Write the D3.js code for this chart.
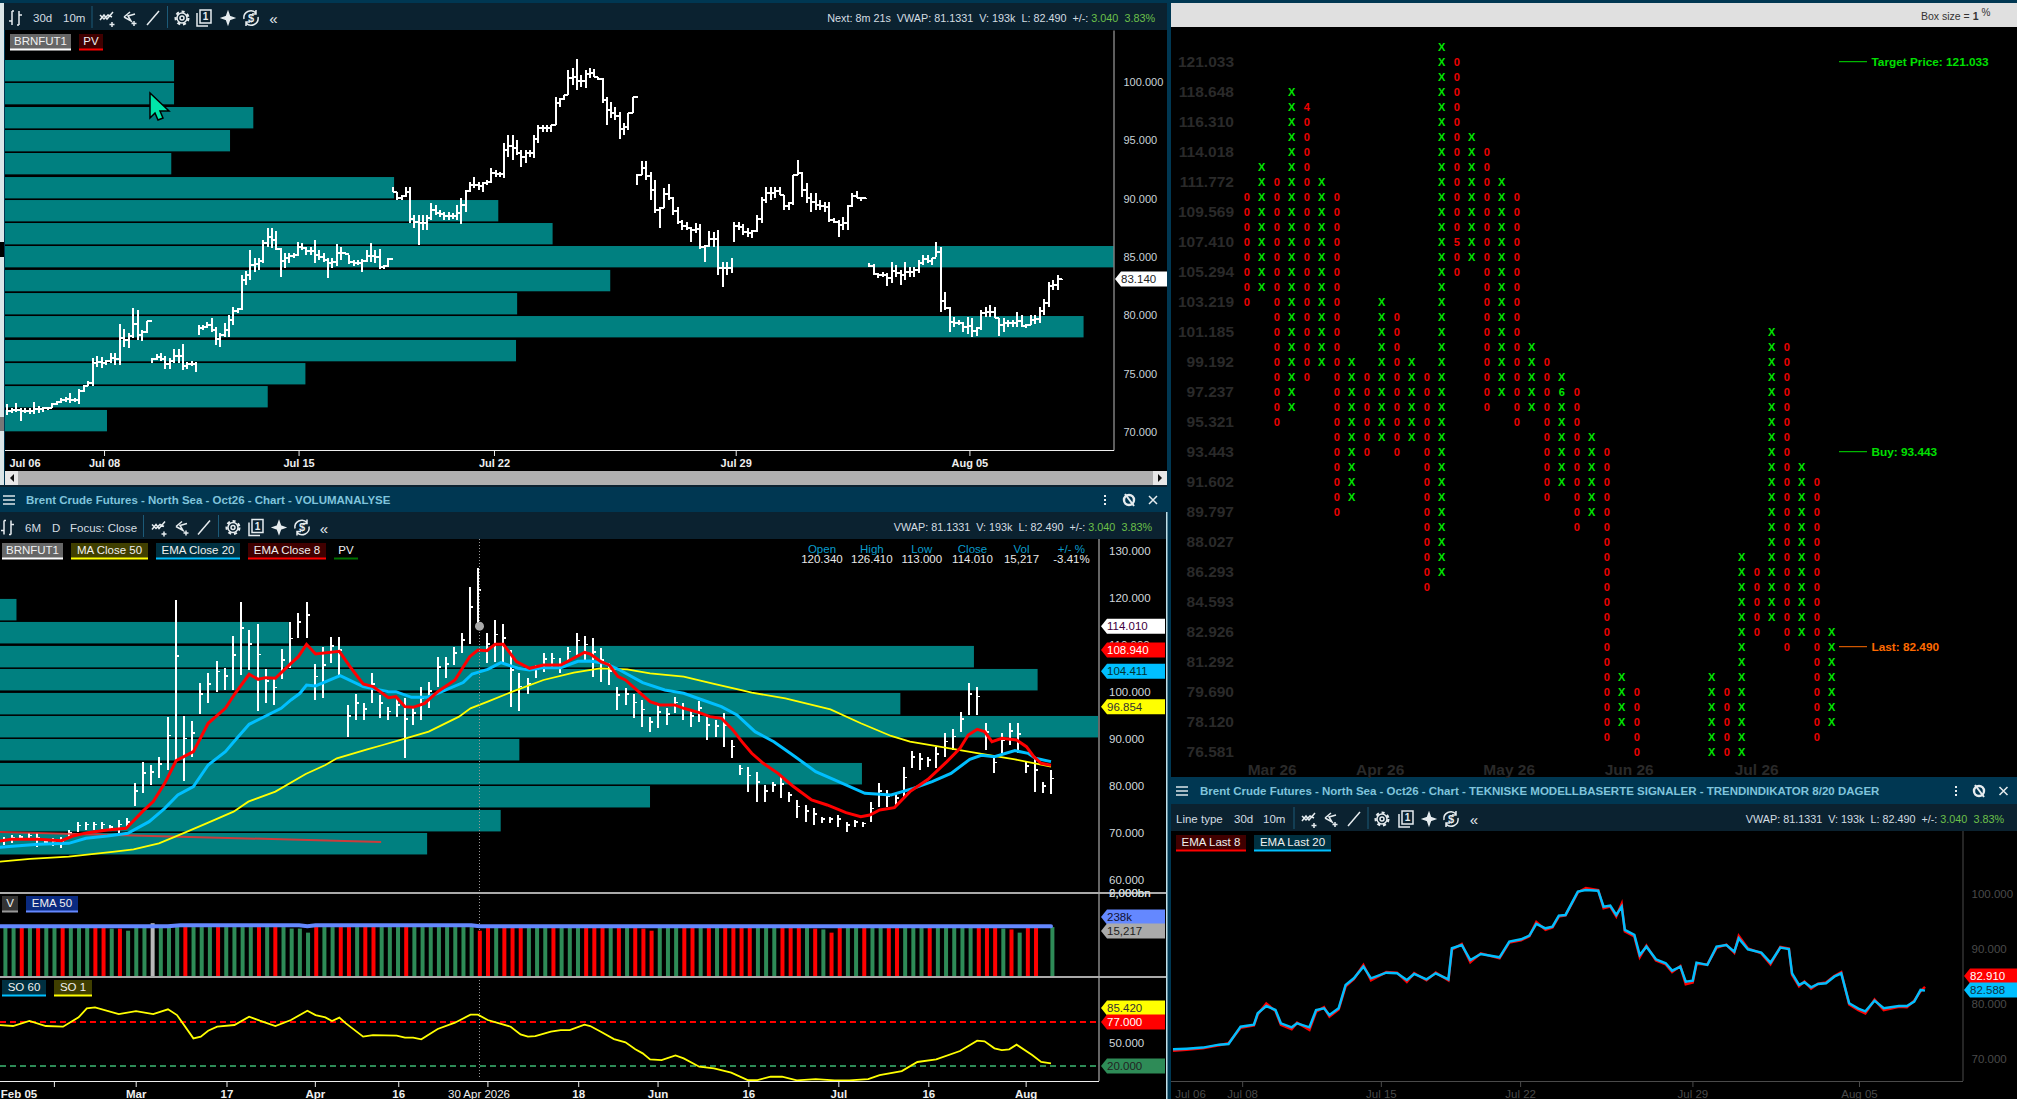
<!DOCTYPE html>
<html>
<head>
<meta charset="utf-8">
<title>Brent Crude Futures</title>
<script src="https://cdnjs.cloudflare.com/ajax/libs/d3/7.8.5/d3.min.js"></script>
<style>
html, body { margin: 0; padding: 0; background: #003752; overflow: hidden; }
text { font-family: "Liberation Sans", Arial, sans-serif; }
</style>
</head>
<body>
<div id="chart"></div>
<script>
// DATA

// top left: 10 minute bars, one list per spliced block, [high, low]
var blockA = [[72.41,71.43],[72.03,71.61],[72.46,71.75],[72.03,70.98],[72.09,71.61],[72.03,71.52],[72.6,71.52],[72.23,71.66],[72.18,71.75],[72.18,71.89],[72.52,72.03],[72.66,72.32],[72.89,72.46],[73.03,72.6],[73.32,72.46],[72.89,72.6],[73.66,72.38],[74.03,73.4],[74.4,73.95],[76.32,73.95],[76.55,75.55],[76.46,75.46],[76.18,75.75],[76.75,75.95],[76.75,75.75],[79.23,75.75],[78.83,77.32],[78.46,77.18],[80.6,78.03],[80.46,77.89],[78.75,77.83],[79.55,78.46],[79.6,79.46]];
var blockB = [[76.38,75.89],[76.69,76.18],[76.8,76.09],[76.52,75.41],[76.32,75.41],[77.09,75.89],[77.09,75.89],[77.55,75.32],[76.03,75.38],[76.12,75.66],[76.03,75.18]];
var blockC = [[79.18,78.32],[79.18,78.75],[79.46,78.89],[79.75,78.6],[78.98,77.46],[78.46,77.26],[79.32,78.18],[80.03,78.18],[80.69,79.18],[80.6,80.18],[83.46,80.46],[83.83,82.6],[85.6,83.03],[84.89,83.75],[84.89,83.89],[86.46,84.46],[87.5,85.89],[87.5,85.75],[87.2,85.6],[85.75,83.32],[85.32,84.09],[85.32,84.46],[85.32,84.89],[86.32,85.09],[86.18,85.6],[85.89,85.18],[85.89,85.18],[86.46,84.46],[85.6,84.75],[85.32,84.6],[84.89,83.23],[84.89,84.03],[86.09,84.23],[85.89,84.75],[85.46,85.26],[85.18,84.38],[84.75,84.23],[84.75,84.32],[84.8,83.75],[85.6,84.6],[86.18,84.6],[85.6,84.46],[85.66,83.95],[84.32,83.95],[84.89,84.12],[84.89,84.75]];
var blockD = [[90.97,90.6],[90.6,89.89],[90.32,89.89],[91.03,90.18],[91.03,87.89],[88.6,87.46],[88.6,86.03],[88.6,87.32],[88.6,87.32],[89.66,88.17],[89.46,88.6],[89.03,88.46],[88.89,88.17],[88.89,88.17],[88.74,88.23],[89.46,88.17],[90.03,87.83],[90.74,88.89],[91.46,90.6],[91.89,90.89],[91.46,90.74],[91.46,90.6],[91.6,91.17],[92.6,91.32],[92.46,91.89],[92.32,91.89],[94.74,91.74],[95.46,93.6],[95.46,93.32],[95.03,93.74],[94.17,92.74],[94.17,93.03],[94.17,93.6],[95.46,93.46],[96.32,94.74],[96.32,95.74],[96.32,95.74],[96.32,95.74],[98.74,96.32],[98.6,97.89],[98.89,98.46],[101.03,98.89],[101.17,99.74],[101.94,99.32],[100.6,99.6],[101.03,99.46],[101.17,100.32],[101.09,100.46],[100.46,100.17],[100.32,98.17],[98.74,96.32],[98.32,96.89],[97.89,96.74],[97.46,95.09],[96.46,95.46],[97.32,95.89],[98.74,97.32],[98.8,98.66]];
var blockE = [[92.12,91.17],[93.26,92.03],[93.23,91.6],[92.26,89.89],[91.6,88.8],[89.26,87.51],[90.89,89.17],[91.26,89.89],[90.17,88.6],[89.26,87.83],[88.17,87.32],[88.03,87.32],[87.6,86.32],[87.94,87.03],[87.83,85.66],[86.03,84.6],[87.26,85.89],[87.17,85.89],[87.32,83.46],[84.6,82.46],[84.6,83.46],[84.89,83.6]];
var blockF = [[88.03,86.32],[88.03,87.32],[87.83,86.89],[87.46,86.74],[87.32,86.6],[88.6,87.17],[90.17,87.89],[91.03,89.6],[91.03,89.89],[91.03,90.03],[90.97,90.32],[90.32,89.03],[89.74,89.03],[92.03,89.46],[93.32,92.03],[92.32,90.17],[91.37,89.6],[90.46,88.83],[90.46,89.03],[89.89,89.03],[89.74,88.89],[89.74,88.03],[88.32,87.89],[88.17,86.74],[88.46,87.32],[89.46,87.32],[90.46,89.32],[90.69,90.03],[90.17,89.8],[90.09,89.97]];
var blockG = [[84.46,84.17],[84.37,83.46],[83.6,83.17],[83.74,83.31],[83.6,82.54],[84.6,82.74],[84.31,83.31],[83.89,82.6],[84.54,83.03],[84.17,83.31],[84.17,83.31],[84.74,83.6],[85.17,84.31],[85.17,84.46],[84.89,84.31],[86.26,85.03],[85.89,80.31],[82.03,80.46],[80.75,78.6],[79.83,79.03],[79.6,79.17],[79.46,78.6],[79.83,78.4],[79.75,78.12],[79.03,78.23],[80.46,78.75],[80.75,79.89],[80.89,79.89],[80.69,79.75],[79.75,78.23],[79.75,78.6],[79.6,79.03],[79.6,79.03],[80.32,79.03],[80.03,79.03],[79.23,78.89],[80.03,79.17],[80.03,79.23],[80.69,79.32],[81.37,80.03],[82.89,80.75],[83.03,82.17],[83.46,82.17],[83.12,83.06]];
var tenMinBlocks = [blockA, blockB, blockC, blockD, blockE, blockF, blockG];
// where each block starts and stops on the 10 minute time line
var blockStarts = [0,32.6,43.1,86.7,141.6,163.4,193.7];
var blockEnds = [32.4,42.5,86.6,141.5,162.8,192.9,237];

// top left volume profile, upper price of each band and share of the largest
var pvTopLevels = [101.89,99.92,97.86,95.89,93.92,91.86,89.89,87.92,85.95,83.9,81.92,79.95,77.9,75.92,73.95,71.9];
var pvTopShare = [15.25,15.25,22.4,20.3,15,35.1,44.5,49.4,100,54.6,46.2,97.3,46.1,27.1,23.7,9.2];
var pvTopBandPrice = 1.83;

var topPriceTicks = [100,95,90,85,80,75,70];
var tenMinTickIdx = [21.8,65.5,109.4,163.7,216.2];
var tenMinTickLabels = ["Jul 08","Jul 15","Jul 22","Jul 29","Aug 05"];

// middle panel: daily bars [high, low]
var dailyBars = [[69.22,67.45],[69.58,67.8],[69.58,68.51],[69.93,68.51],[69.93,67.09],[68.51,67.45],[68.87,67.23],[69.22,66.74],[70.64,68.87],[72.27,70.29],
[72.41,70.64],[72.41,70.64],[72.41,70.78],[71.7,70.64],[72.77,69.93],[73.12,70.99],[80.57,75.82],[85.18,78.44],[84.47,80.21],[86.24,81.63],
[94.75,83.41],[119.58,85.53],[94.97,81.14],[93.9,86.24],[101.84,95.32],[103.97,97.59],[106.67,100.07],[105.04,100.43],[111.92,100.43],[119.08,103.62],
[113.19,104.68],[114.4,96.03],[104.89,97.59],[102.91,97.24],[109.08,102.7],[114.82,105.04],[116.74,111.42],[119.08,111.42],[105.96,98.3],[109.65,98.65],
[111.77,106.1],[111.77,103.62],[97.24,90.5],[99.58,94.04],[97.59,94.04],[103.97,97.59],[99.36,94.4],[96.88,94.04],[98.65,94.75],[98.65,86.03],
[96.88,92.98],[101.14,94.04],[102.2,96.53],[107.52,101.14],[107.52,102.91],[109.65,105.75],[112.63,108.23],[122.41,110.21],[126.31,113.19],[112.48,106.1],
[115.32,106.46],[114.47,106.1],[108.94,96.74],[103.97,96.03],[102.91,99.58],[105.75,102.91],[108.37,104.33],[108.23,105.04],[107.16,103.97],[109.65,106.81],
[112.63,107.87],[111.92,106.81],[111.42,103.26],[109.29,102.2],[106.1,101.49],[101,96.17],[100.78,97.24],[99.58,94.4],[98.3,92.62],[94.75,91.56],
[97.59,92.27],[96.53,92.98],[99.01,95.46],[97.59,94.04],[96.17,92.62],[98.16,93.69],[94.75,89.79],[94.04,90.5],[95.46,88.37],[89.79,85.89],
[84.47,82.34],[84.11,78.8],[83.05,76.67],[80.21,76.67],[80.92,78.8],[81.99,77.38],[78.8,76.67],[77.02,73.12],[75.96,72.41],[75.25,71.7],
[73.48,72.06],[73.48,72.06],[73.83,71.35],[72.41,70.29],[72.77,71.35],[72.41,71.21],[76.67,72.41],[80.71,75.6],[79.15,75.6],[78.44,75.6],
[83.97,77.73],[87.52,83.76],[86.95,83.41],[86.24,84.11],[88.37,83.76],[91.21,86.24],[92.06,87.66],[95.67,91.56],[102,95.11],[101.14,95.11],
[93.48,87.66],[86.24,82.69],[91.21,86.95],[93.33,88.72],[93.33,86.95],[85.18,82.69],[85.89,78.8],[80.92,78.44],[83.41,78.3]];

// [bar position, value]
var ema8Close = [[-0.5,68.3],[0.9,68.65],[4.2,68.65],[7,68.37],[8.4,69.36],[10.2,70.07],[12.6,70.64],[14.9,70.99],[17,74.75],[18.2,76.67],[19.6,80.57],[21,85.39],[23.1,87.31],[24.9,93.34],[27,96.53],[28.2,99.72],[29.9,103.76],[31,102.7],[31.9,103.05],[33.1,102.91],[35,106.1],[35.9,107.52],[36.9,110.14],[38,108.09],[40.9,108.65],[42.2,105.39],[43.8,101.7],[45,101.14],[46.9,98.8],[47.8,99.01],[48.9,96.88],[49.9,96.74],[51.3,97.59],[52.9,100.07],[55,102.55],[56.8,107.52],[57.8,108.94],[58.9,108.8],[59.9,110.14],[60.9,110.14],[62.5,106.46],[64.1,105.04],[65.8,105.75],[67.9,105.75],[70.8,108.44],[71.5,108.09],[72.8,106.46],[73.8,105.75],[74.9,103.26],[75.8,102.55],[77.4,100.07],[78.8,97.94],[80,97.24],[81.8,97.24],[82.9,96.53],[84.8,95.6],[86.1,94.75],[87.5,94.4],[88.9,91.92],[90,89.43],[91.2,86.95],[92.6,84.82],[94.4,82.69],[96.2,80],[98.5,77.02],[100.4,75.96],[102.7,74.33],[104.5,73.48],[105.6,73.83],[106.8,74.89],[108.6,75.39],[110.5,78.8],[112.7,81.42],[115,85.18],[116.6,88.02],[117.6,90.85],[118.7,92.06],[119.6,91.56],[120.5,89.43],[121.7,90.14],[123.5,89.79],[124.7,88.37],[125.6,86.24],[126.5,84.82],[127.7,84.4]];
var ema20Close = [[-0.5,66.95],[1.4,67.23],[4.2,67.59],[7.9,67.8],[10,68.87],[12.6,69.36],[15.1,69.93],[17.7,72.41],[19.6,75.25],[21.2,78.09],[23.1,79.86],[24.9,84.47],[27,87.31],[28.4,90.14],[29.9,93.12],[33.8,96.53],[35,98.3],[36.1,99.72],[36.9,101.49],[38,101.28],[41,103.48],[43.8,101.14],[46.9,100.07],[47.8,100.07],[49.7,98.87],[51.5,98.87],[52.9,99.72],[56,102],[57.1,103.83],[59,104.82],[60.6,106.24],[62.7,105.04],[64.1,104.68],[65.8,105.18],[67.9,105.18],[70,106.53],[71.4,106.6],[73.3,106.1],[75.1,104.68],[77.9,101.99],[80.6,100.43],[82.9,99.72],[85.2,98.3],[87.5,96.88],[89.4,95.11],[91.6,91.56],[93.9,89.43],[96.2,86.6],[99,83.05],[101.3,81.28],[105,78.44],[108.2,78.09],[110.9,79.5],[113.2,80.92],[115.5,82.69],[117.8,85.67],[119.2,86.53],[120.8,86.24],[123.3,87.52],[124.9,86.95],[125.8,85.89],[127.7,85.18]];
var ma50Close = [[-0.5,63.9],[3.2,64.47],[7.9,64.97],[13.5,66.03],[15.8,66.53],[18.9,67.8],[21.4,69.58],[24.7,72.06],[28,74.54],[29.8,76.67],[33.1,78.8],[36.8,82.56],[39.2,84.47],[40.6,85.89],[44.3,87.8],[46.2,88.72],[49,90.14],[51.8,91.56],[55.5,94.75],[56.9,96.53],[59,97.94],[62,100.07],[65.8,102.55],[69.5,104.11],[72.7,105.04],[76,104.82],[78.8,103.97],[82.9,103.26],[86.6,101.7],[89.8,100.43],[91.2,99.86],[95.3,98.65],[100.8,96.31],[104.5,93.34],[108.2,90.64],[110.5,89.43],[114.1,88.37],[119.6,86.74],[123.3,85.67],[127.7,84.11]];
var pvTrendLine = [[-0.5,70.2],[46,68.1]];

var pvMidLevels = [119.8,114.9,109.8,104.9,99.8,94.9,90,84.9,80,74.9,70];
var pvMidShare = [1.5,26.3,88.7,94.5,82,100,47.3,78.5,59.2,45.6,38.9];
var pvMidBandPrice = 4.57;
var midPriceTicks = [130,120,110,100,90,80,70,60];

var ohlcHead = ["Open","High","Low","Close","Vol","+/- %"];
var ohlcVals = ["120.340","126.410","113.000","114.010","15,217","-3.41%"];
var ohlcIdx = [100,106.1,112.2,118.4,124.4,130.5];

// volume in thousands with direction: g up, r down, w reference bar
var volDir = ("ggrgrggrgg" + "grrgrgggwg" + "ggrgggrggg" + "grgrggggrg" + "grrgrrgggr" + "ggggggggrr" + "grrrgggrgg" + "grr" + "rgrgrrrgg" + "grrgrgrrrr" + "gggrrrgrgr" + "rggrggrrgg" + "grgggggrrr" + "grgrrgg").split("");
var volK = [233,233,233,233,233,233,233,233,233,233,
233,233,233,226,226,216,233,233,251,233,
233,233,233,233,233,233,233,233,233,233,
233,233,233,233,233,226,226,207,233,233,
233,233,233,233,233,233,233,233,233,233,
233,233,233,233,233,233,233,233,216,233,
233,233,233,233,233,233,233,233,233,233,
233,233,233,233,233,233,233,233,226,216,
233,233,233,233,233,233,233,233,233,233,
233,233,233,233,233,233,233,233,233,226,
222,207,233,233,233,233,233,233,233,233,
233,233,233,233,233,233,233,233,233,233,
233,233,226,222,207,233,233,0,233];
var volEma50 = [[-0.5,237],[20,237],[21.5,242],[36,242],[37,237],[38,242],[57,242],[58,237],[127.7,237]];

var stochSlow = [[-0.5,73],[1.1,71.8],[3.1,78.3],[5.1,71.8],[7.2,70.9],[9.1,83],[10.1,94.7],[11.1,96],[14,87.3],[16.1,91.2],[18.2,87.3],[20,93.4],[21.1,86],[23.1,55.8],[24,58],[24.9,65.7],[26,70.9],[28.1,73.1],[29.9,83.9],[31.2,78.7],[33.1,71.8],[35,79.6],[37,91.6],[38,86],[39.2,83],[40,78.3],[40.9,82.6],[41.7,75.2],[43.8,58],[45,60.1],[47.9,59.3],[48.9,56.7],[49.9,56.7],[50.9,54.5],[52.9,67.9],[55,76.1],[56.9,86.5],[57.8,86.5],[59,79.6],[61.8,70.9],[63,61],[63.9,58],[64.8,58.8],[66.7,64.4],[67.9,66.6],[69,66.6],[70.8,73.5],[71.5,71.8],[72.8,64.4],[74.4,54.9],[75.8,50.6],[77,41.6],[77.9,36.4],[78.8,28.6],[80.2,27.7],[81.9,33.8],[82.9,29.9],[84.8,19.1],[86.6,17],[88.7,11.3],[90.7,1.8],[91.9,1.8],[93.5,6.1],[94.9,6.1],[96.7,1.4],[99,3.1],[101.3,1.4],[103.1,1.4],[105.4,3.1],[106.8,8.3],[109.5,13.5],[111.4,25.2],[113.7,28.6],[116.6,39.4],[118.7,52.8],[119.6,51.9],[120.8,42.9],[121.7,40.7],[122.6,41.6],[123.5,47.6],[125.4,34.2],[126.5,25.2],[127.7,23.4]];

var dayTickIdx = [6.1,16.1,27.2,38,48.2,59.1,70.2,79.9,91,102,113,124.9];
var dayTickLabels = ["","Mar","17","Apr","16","","18","Jun","16","Jul","16","Aug"];

// point and figure, one entry per column: type, top row, bottom row. Gaps are null.
var pfColumns = [["O",9,16],["X",7,15],["O",8,24],["X",2,23],["O",3,21],["X",8,20],["O",9,30],["X",20,29],["O",21,26],["X",16,25],
["O",17,26],["X",20,25],["O",21,35],["X",-1,34],["O",0,14],["X",5,13],["O",6,23],["X",8,22],["O",9,24],["X",19,23],
["O",20,29],["X",21,28],["O",22,31],["X",25,30],["O",26,45],["X",41,44],["O",42,46],null,null,null,
null,["X",41,46],["O",42,46],["X",33,46],["O",34,38],["X",18,37],["O",19,39],["X",27,38],["O",28,45],["X",38,44]];
var pfMonthDigits = [[4,3,"4"],[14,12,"5"],[21,22,"6"]];
var pfRowLabels = ["121.033","118.648","116.310","114.018","111.772","109.569","107.410","105.294","103.219","101.185","99.192","97.237","95.321","93.443","91.602","89.797","88.027","86.293","84.593","82.926","81.292","79.690","78.120","76.581"];
var pfMonths = ["Mar 26","Apr 26","May 26","Jun 26","Jul 26"];
var pfMonthCols = [1.7,8.9,17.5,25.5,34];
var pfSignalLabels = ["Target Price: 121.033","Buy: 93.443","Last: 82.490"];
var pfSignalRows = [0,26,39];
var pfSignalColors = ["#00e000","#00e000","#ff6a00"];

// bottom right: two EMAs of the 10 minute last price
var trendIdx = [0,4.3,9.4,14.5,17.5,21.3,25.5,26.7,29.4,32.3,34,37.4,39.1,43,45.1,47.6,49.3,52.2,54.4,57,60,62.4,67.2,70.6,73.7,76,79.9,82.8,86.8,87.9,91,93.7,97,102.9,106,109.7,112.3,114.5,117.4,119.6,121.6,123.7,127.6,130.1,134,135.7,137.8,139.7,141.4,142.4,145.4,147.1,149.2,152.2,155.3,157.3,159.9,161.6,163.8,165,168.4,171.3,174.4,176.9,178.3,181.2,185.4,188.3,191.4,194.1,195.1,197.3,199,201.1,203.3,205.8,208.4,210.6,213.1,216,218.2,221.1,224,228.8,231.3,233.6,235.6,237];
var ema20Last = [71.76,71.88,72.07,72.61,72.73,75.88,76.25,78.31,79.64,78.91,76.49,75.76,76.49,75.76,78.91,79.22,78,79.22,83.46,84.67,86.79,84.67,85.7,85.58,84.37,85.46,84.49,85.58,84.49,90.13,90.73,88,89.1,88.49,91.34,91.76,92.43,94.55,93.76,94.06,96.07,96.19,100.43,100.73,100.61,97.7,97.88,96.19,97.7,93.46,92.55,88.91,90.43,88.13,87.4,86.07,86.79,84.06,84.25,87.52,87.1,90.43,90.73,89.52,91.94,89.94,89.34,87.52,90.25,90,85.58,83.46,83.95,83.03,83.64,83.76,84.97,85.58,80.13,79.15,78.67,80.61,79.22,79.64,79.64,80.43,82.55,82.43];
var ema8Last = [71.5,71.7,71.95,72.5,72.85,75.7,76.1,78.1,80.1,78.7,76.2,75.4,76.6,75.3,78.6,79.4,77.7,79.0,83.2,84.5,87.1,84.3,85.8,85.7,84.0,85.6,84.3,85.7,84.3,89.9,90.9,87.6,89.2,88.3,91.2,91.6,92.3,94.9,93.5,93.9,95.9,96.1,100.3,101.1,100.7,97.4,97.7,95.9,98.2,93.2,92.3,88.5,90.6,87.9,87.2,85.8,86.9,83.6,83.9,87.3,87.2,90.2,90.8,89.3,92.4,90.1,89.2,87.2,90.4,90.1,85.3,83.2,84.1,82.8,83.7,83.9,85.1,85.8,79.9,78.9,78.3,80.8,78.9,79.5,79.4,80.6,82.3,83.1];
var trendPriceTicks = [100,90,80,70];

// LAYOUT

var width = 2017;
var height = 1099;
var bg_title = "#003752";
var bg_tool = "#0b2230";
var teal = "#008080";
var label_grey = "#d4dde2";

var svg = d3.select("#chart").append("svg")
  .attr("width", width)
  .attr("height", height)
  .style("display", "block");

function fillRect(x, y, w, h, col) {
  return svg.append("rect").attr("x", x).attr("y", y).attr("width", w).attr("height", h).attr("fill", col);
}

function putText(parent, x, y, str, size, col, anchor, weight) {
  return parent.append("text")
    .attr("x", x)
    .attr("y", y)
    .attr("dy", "0.35em")
    .attr("font-size", size)
    .attr("fill", col)
    .attr("text-anchor", anchor || "start")
    .attr("font-weight", weight || "normal")
    .text(str);
}

fillRect(0, 0, width, height, bg_title);
fillRect(0, 3, 1167, 27, bg_tool);
fillRect(5, 30, 1162, 441, "#000");
fillRect(0, 3, 4, 482, "#dbe6e8");
fillRect(0, 242, 4, 15, "#000");
fillRect(0, 417, 4, 14, "#777");
fillRect(0, 485, 1167, 2, bg_tool);
fillRect(0, 512, 1167, 27, bg_tool);
fillRect(0, 539, 1166, 560, "#000");
fillRect(1171, 3, 846, 24, "#e0e0e0");
fillRect(1171, 27, 846, 750, "#000");
fillRect(1171, 804, 846, 27, bg_tool);
fillRect(1171, 831, 846, 268, "#000");
fillRect(1166, 512, 1.5, 587, "#bfdfe8");
fillRect(5, 471, 1162, 14, "#b0b0b0");
fillRect(5, 471, 13, 14, "#e8e8e8");
fillRect(1153, 471, 14, 14, "#e8e8e8");
svg.append("path").attr("d", "M10,478 l4,-4 v8 z").attr("fill", "#111");
svg.append("path").attr("d", "M1162,478 l-4,-4 v8 z").attr("fill", "#111");

// TOOLBARS

function drawIcon(kind, x, y) {
  var g = svg.append("g")
    .attr("transform", "translate(" + x + "," + y + ")")
    .attr("fill", "none")
    .attr("stroke", "#e6ecef")
    .attr("stroke-width", 1.5);
  if (kind == "bars") {
    g.append("path").attr("d", "M-4,-7 V7 M-7,3 H-4 M3,-7 V7 M3,-3 H6 M-4,-7 H-2 M3,7 H1");
  } else if (kind == "up") {
    g.append("path").attr("d", "M-7,2 L-3,-3 L0,1 L6,-6 M-7,-3 L-3,1 L1,-3 L5,-1 M5,4 V9 M2.5,6.5 H7.5");
  } else if (kind == "down") {
    g.append("path").attr("d", "M-6,-1 L0,-6 M-6,-1 L1,3 L-2,-2 L5,-4 M4,3 V8 M1.5,5.5 H6.5");
  } else if (kind == "draw") {
    g.append("path").attr("d", "M-6,7 L6,-7");
  } else if (kind == "gear") {
    g.append("circle").attr("r", 5);
    g.append("circle").attr("r", 2);
    g.append("circle").attr("r", 6.4).attr("stroke-dasharray", "3,2.8").attr("stroke-width", 2.2);
  } else if (kind == "book") {
    g.append("path").attr("d", "M-4,-8 H7 V5 H-4 Z M-7,-5 V8 H4");
    putText(g, 1.5, -1.5, "1", 10, "#e6ecef", "middle", "bold").attr("stroke", "none");
  } else if (kind == "plus") {
    g.append("path").attr("d", "M0,-6 L1.6,-1.6 L6,0 L1.6,1.6 L0,6 L-1.6,1.6 L-6,0 L-1.6,-1.6 Z").attr("fill", "#e6ecef");
  } else if (kind == "sync") {
    g.append("path").attr("d", "M-7,1 A7,7 0 0 1 5,-5 M7,-1 A7,7 0 0 1 -5,5 M5,-8 V-4 H1 M-5,8 V4 H-1");
    putText(g, 0, 0, "$", 11, "#e6ecef", "middle", "bold").attr("stroke", "none");
  } else if (kind == "more") {
    putText(g, 0, 1, "«", 15, "#e6ecef", "middle").attr("stroke", "none");
  } else if (kind == "menu") {
    g.append("path").attr("d", "M-6,-4 H6 M-6,0 H6 M-6,4 H6").attr("stroke", "#dce6ea").attr("stroke-width", 1.6);
  } else if (kind == "dots") {
    g.append("path").attr("d", "M0,-5 V-3 M0,-1 V1 M0,3 V5").attr("stroke-width", 2);
  } else if (kind == "pin") {
    g.append("circle").attr("r", 5).attr("stroke-width", 2.4);
    g.append("path").attr("d", "M-4,-6 L5,6").attr("stroke-width", 2);
  } else if (kind == "close") {
    g.append("path").attr("d", "M-4,-4 L4,4 M-4,4 L4,-4");
  }
}

function drawSep(x, y1, y2) {
  svg.append("line").attr("x1", x).attr("x2", x).attr("y1", y1).attr("y2", y2).attr("stroke", "#1c5a78").attr("stroke-width", 1);
}

function drawToolbar(y, leftIcon, texts, xs) {
  if (leftIcon !== null) drawIcon("bars", leftIcon, y);
  texts.forEach(function(t) { putText(svg, t[0], y, t[1], 11.5, label_grey); });
  var kinds = ["up", "down", "draw", "gear", "book", "plus", "sync", "more"];
  xs.forEach(function(x, i) { drawIcon(kinds[i], x, y); });
}

function drawStatus(rightX, y, prefix) {
  var t = svg.append("text").attr("x", rightX).attr("y", y).attr("dy", "0.35em")
    .attr("text-anchor", "end").attr("font-size", 10.8).attr("fill", label_grey);
  t.append("tspan").text(prefix + "VWAP: 81.1331\u00a0\u00a0V: 193k\u00a0\u00a0L: 82.490\u00a0\u00a0+/-: ");
  t.append("tspan").attr("fill", "#6cc04a").text("3.040\u00a0\u00a03.83%");
}

function drawTitle(x, y, str) {
  putText(svg, x, y, str, 11.5, "#7fc4dc", "start", "bold");
}

drawToolbar(18, 16, [[33, "30d"], [63, "10m"]], [107, 130, 153, 182, 204, 228, 251, 273.5]);
drawSep(92, 6, 28); drawSep(167.5, 6, 28);
drawStatus(1155, 18, "Next: 8m 21s\u00a0\u00a0");

drawIcon("menu", 9, 500);
drawTitle(26, 500, "Brent Crude Futures - North Sea - Oct26 - Chart - VOLUMANALYSE");
drawIcon("dots", 1105, 500); drawIcon("pin", 1129, 500); drawIcon("close", 1153, 500);
drawToolbar(527.5, 8, [[25, "6M"], [52, "D"], [70, "Focus: Close"]], [159, 182, 204, 233, 256, 279, 302, 324]);
drawSep(143.5, 515, 537); drawSep(218.5, 515, 537);
drawStatus(1152, 527.5, "");

drawIcon("menu", 1182, 791);
drawTitle(1200, 791, "Brent Crude Futures - North Sea - Oct26 - Chart - TEKNISKE MODELLBASERTE SIGNALER - TRENDINDIKATOR 8/20 DAGER");
drawIcon("dots", 1956, 791); drawIcon("pin", 1979, 791); drawIcon("close", 2003.5, 791);
drawToolbar(819, null, [[1176, "Line type"], [1234, "30d"], [1263, "10m"]], [1309, 1331, 1354, 1382, 1406, 1429, 1451, 1474]);
drawSep(1294, 807, 829); drawSep(1368, 807, 829);
drawStatus(2004, 819, "");

function drawChip(x1, x2, y1, str, bg, line, size) {
  fillRect(x1, y1, x2 - x1, 16, bg);
  fillRect(x1, y1 + 14.5, x2 - x1, 2, line);
  putText(svg, (x1 + x2) / 2, y1 + 7, str, size || 11.5, "#f0f0f0", "middle");
}

function drawTag(leftX, rightX, y, str, bg, col) {
  svg.append("path")
    .attr("d", "M" + leftX + "," + y + " L" + (leftX + 6) + "," + (y - 7.5) + " H" + rightX + " V" + (y + 7.5) + " H" + (leftX + 6) + " Z")
    .attr("fill", bg);
  putText(svg, leftX + 6, y, str, 11.5, col);
}

function linePath(xs, ys) {
  return d3.line().x(function(d) { return xs(d[0]); }).y(function(d) { return ys(d[1]); });
}

function styleAxis(g, col, size, weight) {
  g.selectAll("text").attr("font-family", "'Liberation Sans', Arial, sans-serif").attr("font-size", size).attr("font-weight", weight || "normal").attr("fill", col);
  g.selectAll("line").attr("stroke", col);
  g.selectAll(".domain").attr("stroke", col);
}

// TOP LEFT: 10 MINUTE BARS WITH VOLUME PROFILE

var tenMinBars = [];
tenMinBlocks.forEach(function(block, k) {
  var place = d3.scaleLinear().domain([0, block.length - 1]).range([blockStarts[k], blockEnds[k]]);
  block.forEach(function(b, i) {
    tenMinBars.push({high: b[0], low: b[1], pos: place(i), last: i == block.length - 1});
  });
});
tenMinBars.forEach(function(b, i) { b.i = i; });

var xTen = d3.scaleLinear().domain([0, 237]).range([7, 1062]);
var yTop = d3.scaleLinear().domain([104.46, 68.47]).range([30, 450]);
var xPvTop = d3.scaleLinear().domain([0, 100]).range([5, 1113.5]);

svg.append("g").selectAll("rect")
  .data(pvTopLevels)
  .enter().append("rect")
    .attr("x", xPvTop(0))
    .attr("y", function(d) { return yTop(d); })
    .attr("width", function(d, i) { return xPvTop(pvTopShare[i]) - xPvTop(0); })
    .attr("height", yTop(0) - yTop(pvTopBandPrice))
    .attr("fill", teal);

var topBars = svg.append("g").attr("stroke", "#fff").attr("shape-rendering", "crispEdges");

topBars.selectAll(".stem")
  .data(tenMinBars)
  .enter().append("line")
    .attr("class", "stem")
    .attr("x1", function(d) { return xTen(d.pos); })
    .attr("x2", function(d) { return xTen(d.pos); })
    .attr("y1", function(d) { return yTop(d.high); })
    .attr("y2", function(d) { return yTop(d.low); })
    .attr("stroke-width", 2);

// the step between two bars of a block sits where their ranges meet
topBars.selectAll(".step")
  .data(tenMinBars.filter(function(d) { return !d.last; }))
  .enter().append("line")
    .attr("class", "step")
    .attr("x1", function(d) { return xTen(d.pos); })
    .attr("x2", function(d) { return xTen(tenMinBars[d.i + 1].pos); })
    .attr("y1", stepY)
    .attr("y2", stepY)
    .attr("stroke-width", 2);

function stepY(d) {
  var next = tenMinBars[d.i + 1];
  var up = Math.min(d.high, next.high);
  var down = Math.max(d.low, next.low);
  return yTop(up >= down ? (up + down) / 2 : (d.low > next.high ? d.low : d.high));
}

var topAxisY = svg.append("g")
  .attr("transform", "translate(1113.5,0)")
  .call(d3.axisRight(yTop).tickValues(topPriceTicks).tickSize(0).tickPadding(10).tickFormat(d3.format(".3f")));
styleAxis(topAxisY, "#c9d3d8", 11);
topAxisY.select(".domain").attr("stroke", "#bbb");

var topAxisX = svg.append("g")
  .attr("transform", "translate(0,450)")
  .call(d3.axisBottom(xTen).tickValues(tenMinTickIdx).tickSize(6).tickPadding(3)
    .tickFormat(function(d, i) { return tenMinTickLabels[i]; }));
styleAxis(topAxisX, "#eee", 11, "bold");
topAxisX.select(".domain").attr("d", "M5,0.5 H1114");
putText(svg, 25, 463, "Jul 06", 11, "#eee", "middle", "bold");

drawTag(1115, 1167, 279, "83.140", "#fff", "#222");
drawChip(10, 71, 34, "BRNFUT1", "#666", "#fff");
drawChip(79, 103, 34, "PV", "#400000", "#f00");

// cursor
svg.append("path")
  .attr("d", "M150,93 V118 L155,113 L158,120 L163,118 L160,111 L169,111 Z")
  .attr("fill", "#00e6a8")
  .attr("stroke", "#000")
  .attr("stroke-width", 1.5);

// MIDDLE LEFT: DAILY BARS

var yMid = d3.scaleLinear().domain([132.55, 57.23]).range([539, 893]);
var xDay = d3.scaleLinear().domain([0, 128]).range([4, 1051]);
var xLine = d3.scaleLinear().domain([0, 127.7]).range([4, 1051]);
var xPvMid = d3.scaleLinear().domain([0, 100]).range([0, 1098]);

svg.append("g").selectAll("rect")
  .data(pvMidLevels)
  .enter().append("rect")
    .attr("x", 0)
    .attr("y", function(d) { return yMid(d); })
    .attr("width", function(d, i) { return xPvMid(pvMidShare[i]); })
    .attr("height", yMid(0) - yMid(pvMidBandPrice))
    .attr("fill", teal);

var midBars = svg.append("g").attr("stroke", "#fff").attr("shape-rendering", "crispEdges");

midBars.selectAll(".stem")
  .data(dailyBars)
  .enter().append("line")
    .attr("class", "stem")
    .attr("x1", function(d, i) { return xDay(i); })
    .attr("x2", function(d, i) { return xDay(i); })
    .attr("y1", function(d) { return yMid(d[0]); })
    .attr("y2", function(d) { return yMid(d[1]); })
    .attr("stroke-width", 2);

midBars.selectAll(".tickr")
  .data(dailyBars)
  .enter().append("line")
    .attr("class", "tickr")
    .attr("x1", function(d, i) { return xDay(i); })
    .attr("x2", function(d, i) { return xDay(i) + 3; })
    .attr("y1", function(d) { return yMid(d[0] - (d[0] - d[1]) * 0.35); })
    .attr("y2", function(d) { return yMid(d[0] - (d[0] - d[1]) * 0.35); })
    .attr("stroke-width", 1.6);

var midLine = linePath(xLine, yMid);

svg.append("path").datum(pvTrendLine).attr("d", midLine)
  .attr("fill", "none").attr("stroke", "#ff2a2a").attr("stroke-opacity", 0.8).attr("stroke-width", 2);
svg.append("path").datum(ma50Close).attr("d", midLine)
  .attr("fill", "none").attr("stroke", "#ffff00").attr("stroke-width", 1.8);
svg.append("path").datum(ema20Close).attr("d", midLine)
  .attr("fill", "none").attr("stroke", "#00bfff").attr("stroke-width", 3);
svg.append("path").datum(ema8Close).attr("d", midLine)
  .attr("fill", "none").attr("stroke", "#ff0000").attr("stroke-width", 3);

// axis line runs on through the lower panes
svg.append("line").attr("x1", 1099).attr("x2", 1099).attr("y1", 539).attr("y2", 1081).attr("stroke", "#ccc");

var midAxisY = svg.append("g")
  .attr("transform", "translate(1099,0)")
  .call(d3.axisRight(yMid).tickValues(midPriceTicks).tickSize(0).tickPadding(10).tickFormat(d3.format(".3f")));
styleAxis(midAxisY, "#d0d8dc", 11.5);
midAxisY.select(".domain").remove();

// crosshair
svg.append("line").attr("x1", 479.5).attr("x2", 479.5).attr("y1", 539).attr("y2", 1078)
  .attr("stroke", "#999").attr("stroke-dasharray", "1,2");
svg.append("circle").attr("cx", 479.5).attr("cy", yMid(114.01)).attr("r", 4.5).attr("fill", "#aaa");

ohlcHead.forEach(function(h, i) {
  var x = xDay(ohlcIdx[i]);
  putText(svg, x, 549, h, 11.5, "#0a9ccc", "middle");
  putText(svg, x, 559, ohlcVals[i], 11.5, "#e8e8e8", "middle");
});

drawChip(2, 63, 543, "BRNFUT1", "#666", "#fff");
drawChip(71, 148, 543, "MA  Close 50", "#403f00", "#ffff00");
drawChip(156, 240, 543, "EMA  Close 20", "#003040", "#00bfff");
drawChip(248, 326, 543, "EMA  Close 8", "#400000", "#ff0000");
drawChip(334, 358, 543, "PV", "#000", "#007000");

drawTag(1101, 1165, yMid(114.01), "114.010", "#fff", "#400040");
drawTag(1101, 1165, yMid(108.94), "108.940", "#f00", "#fff");
drawTag(1101, 1165, yMid(104.411), "104.411", "#00bfff", "#033");
drawTag(1101, 1165, yMid(96.854), "96.854", "#ff0", "#333");

// VOLUME PANE

var yVol = d3.scaleLinear().domain([0, 238]).range([977, 926]);
var volColor = {g: "#2e8b57", r: "#ff0000", w: "#b8b8b8"};

svg.append("g").selectAll("rect")
  .data(volK)
  .enter().append("rect")
    .attr("x", function(d, i) { return xDay(i) + 1.4 - 2; })
    .attr("y", function(d) { return yVol(d); })
    .attr("width", 4)
    .attr("height", function(d) { return yVol(0) - yVol(d); })
    .attr("fill", function(d, i) { return volColor[volDir[i]]; });

svg.append("path").datum(volEma50).attr("d", linePath(xLine, yVol))
  .attr("fill", "none").attr("stroke", "#6488ff").attr("stroke-width", 4).attr("stroke-linecap", "round");

fillRect(0, 892, 1166, 2, "#aaa");
fillRect(0, 976, 1166, 2, "#aaa");
putText(svg, 1109, 893, "2,000bn", 11.5, "#d0d8dc");
putText(svg, 1109, 893, "6,000bn", 11.5, "#d0d8dc");

drawChip(2, 18, 896, "V", "#333", "#999");
drawChip(26, 78, 896, "EMA  50", "#0a2a80", "#6488ff");
drawTag(1101, 1165, 917, "238k", "#6488ff", "#113");
drawTag(1101, 1165, 931, "15,217", "#aaa", "#222");

// STOCHASTIC PANE

var ySo = d3.scaleLinear().domain([77, 20]).range([1022, 1066]);

svg.append("line").attr("x1", 0).attr("x2", 1099).attr("y1", ySo(77)).attr("y2", ySo(77))
  .attr("stroke", "#ff0000").attr("stroke-width", 2).attr("stroke-dasharray", "6,4");
svg.append("line").attr("x1", 0).attr("x2", 1099).attr("y1", ySo(20)).attr("y2", ySo(20))
  .attr("stroke", "#2e8b57").attr("stroke-width", 2).attr("stroke-dasharray", "6,4");
svg.append("path").datum(stochSlow).attr("d", linePath(xLine, ySo))
  .attr("fill", "none").attr("stroke", "#ffff00").attr("stroke-width", 1.8);

var soAxis = svg.append("g")
  .attr("transform", "translate(1099,0)")
  .call(d3.axisRight(ySo).tickValues([50]).tickSize(0).tickPadding(10).tickFormat(d3.format(".3f")));
styleAxis(soAxis, "#d0d8dc", 11.5);
soAxis.select(".domain").remove();

drawChip(2, 46, 980, "SO  60", "#003040", "#00bfff");
drawChip(54, 92, 980, "SO  1", "#403f00", "#ffff00");
drawTag(1101, 1165, 1008, "85.420", "#ff0", "#333");
drawTag(1101, 1165, ySo(77), "77.000", "#f00", "#fff");
drawTag(1101, 1165, ySo(20), "20.000", "#2e8b57", "#222");

var dayAxis = svg.append("g")
  .attr("transform", "translate(0,1081)")
  .call(d3.axisBottom(xDay).tickValues(dayTickIdx).tickSize(6).tickPadding(3)
    .tickFormat(function(d, i) { return dayTickLabels[i]; }));
styleAxis(dayAxis, "#eee", 11.5, "bold");
dayAxis.select(".domain").attr("d", "M0,0.5 H1099");
putText(svg, 19, 1094, "Feb 05", 11.5, "#eee", "middle", "bold");
putText(svg, 479, 1094, "30 Apr 2026", 11.5, "#eee", "middle");

// RIGHT: POINT AND FIGURE

var xCol = d3.scaleLinear().domain([0, 39]).range([1246.7, 1831.7]);
var yRow = d3.scaleLinear().domain([0, 46]).range([61.7, 751.7]);
var pfFont = "'DejaVu Sans', sans-serif";

var pfBoxes = [];
pfColumns.forEach(function(c, ci) {
  if (c === null) return;
  for (var r = c[1]; r <= c[2]; r++) {
    pfBoxes.push({col: ci, row: r, mark: c[0] == "X" ? "X" : "0", up: c[0] == "X"});
  }
});
pfMonthDigits.forEach(function(m) {
  pfBoxes.forEach(function(b) {
    if (b.col == m[0] && b.row == m[1]) b.mark = m[2];
  });
});

svg.append("g").selectAll("text")
  .data(pfBoxes)
  .enter().append("text")
    .attr("x", function(d) { return xCol(d.col); })
    .attr("y", function(d) { return yRow(d.row); })
    .attr("dy", "0.35em")
    .attr("text-anchor", "middle")
    .attr("font-family", pfFont)
    .attr("font-size", 11)
    .attr("font-weight", "bold")
    .attr("fill", function(d) { return d.up ? "#00e600" : "#f00000"; })
    .text(function(d) { return d.mark; });

svg.append("g").selectAll("text")
  .data(pfRowLabels)
  .enter().append("text")
    .attr("x", 1234)
    .attr("y", function(d, i) { return yRow(i * 2); })
    .attr("dy", "0.35em")
    .attr("text-anchor", "end")
    .attr("font-size", 15.5)
    .attr("font-weight", "bold")
    .attr("fill", "#2a2a2a")
    .text(function(d) { return d; });

pfMonths.forEach(function(m, i) {
  putText(svg, xCol(pfMonthCols[i]), 769.5, m, 15.5, "#2a2a2a", "middle", "bold");
});

pfSignalLabels.forEach(function(s, i) {
  var y = yRow(pfSignalRows[i]);
  svg.append("line").attr("x1", 1839).attr("x2", 1867).attr("y1", y).attr("y2", y).attr("stroke", pfSignalColors[i]);
  putText(svg, 1871.5, y, s, 11.8, pfSignalColors[i], "start", "bold").attr("font-family", pfFont);
});

var boxText = svg.append("text").attr("x", 1921).attr("y", 20).attr("font-size", 10.5).attr("fill", "#333");
boxText.append("tspan").text("Box size = ");
boxText.append("tspan").attr("font-weight", "bold").text("1");
boxText.append("tspan").attr("dy", -4).attr("dx", 3).attr("font-size", 10).text("%");

// BOTTOM RIGHT: TREND INDICATOR

var xTrend = d3.scaleLinear().domain([0, 237]).range([1173, 1925]);
var yTrend = d3.scaleLinear().domain([100, 70]).range([894, 1059]);
var dim = "#4a4a4a";

var trendLine = d3.line()
  .x(function(d, i) { return xTrend(trendIdx[i]); })
  .y(function(d) { return yTrend(d); });

svg.append("path").datum(ema8Last).attr("d", trendLine)
  .attr("fill", "none").attr("stroke", "#ff0000").attr("stroke-width", 2.5);
svg.append("path").datum(ema20Last).attr("d", trendLine)
  .attr("fill", "none").attr("stroke", "#00bfff").attr("stroke-width", 2.5);

var trendAxisY = svg.append("g")
  .attr("transform", "translate(1962.5,0)")
  .call(d3.axisRight(yTrend).tickValues(trendPriceTicks).tickSize(0).tickPadding(9).tickFormat(d3.format(".3f")));
styleAxis(trendAxisY, dim, 11.5);
trendAxisY.select(".domain").attr("d", "M0.5,831 V1081");

var trendAxisX = svg.append("g")
  .attr("transform", "translate(0,1081)")
  .call(d3.axisBottom(xTrend).tickValues(tenMinTickIdx).tickSize(6).tickPadding(3)
    .tickFormat(function(d, i) { return tenMinTickLabels[i]; }));
styleAxis(trendAxisX, dim, 11.5);
trendAxisX.select(".domain").attr("d", "M1171,0.5 H1963");
putText(svg, 1190.5, 1094, "Jul 06", 11.5, dim, "middle");

drawChip(1176, 1246, 835, "EMA  Last 8", "#400000", "#ff0000");
drawChip(1254, 1331, 835, "EMA  Last 20", "#003040", "#00bfff");
drawTag(1964, 2017, 976, "82.910", "#f00", "#fff");
drawTag(1964, 2017, 990, "82.588", "#00bfff", "#134");
</script>
</body>
</html>
